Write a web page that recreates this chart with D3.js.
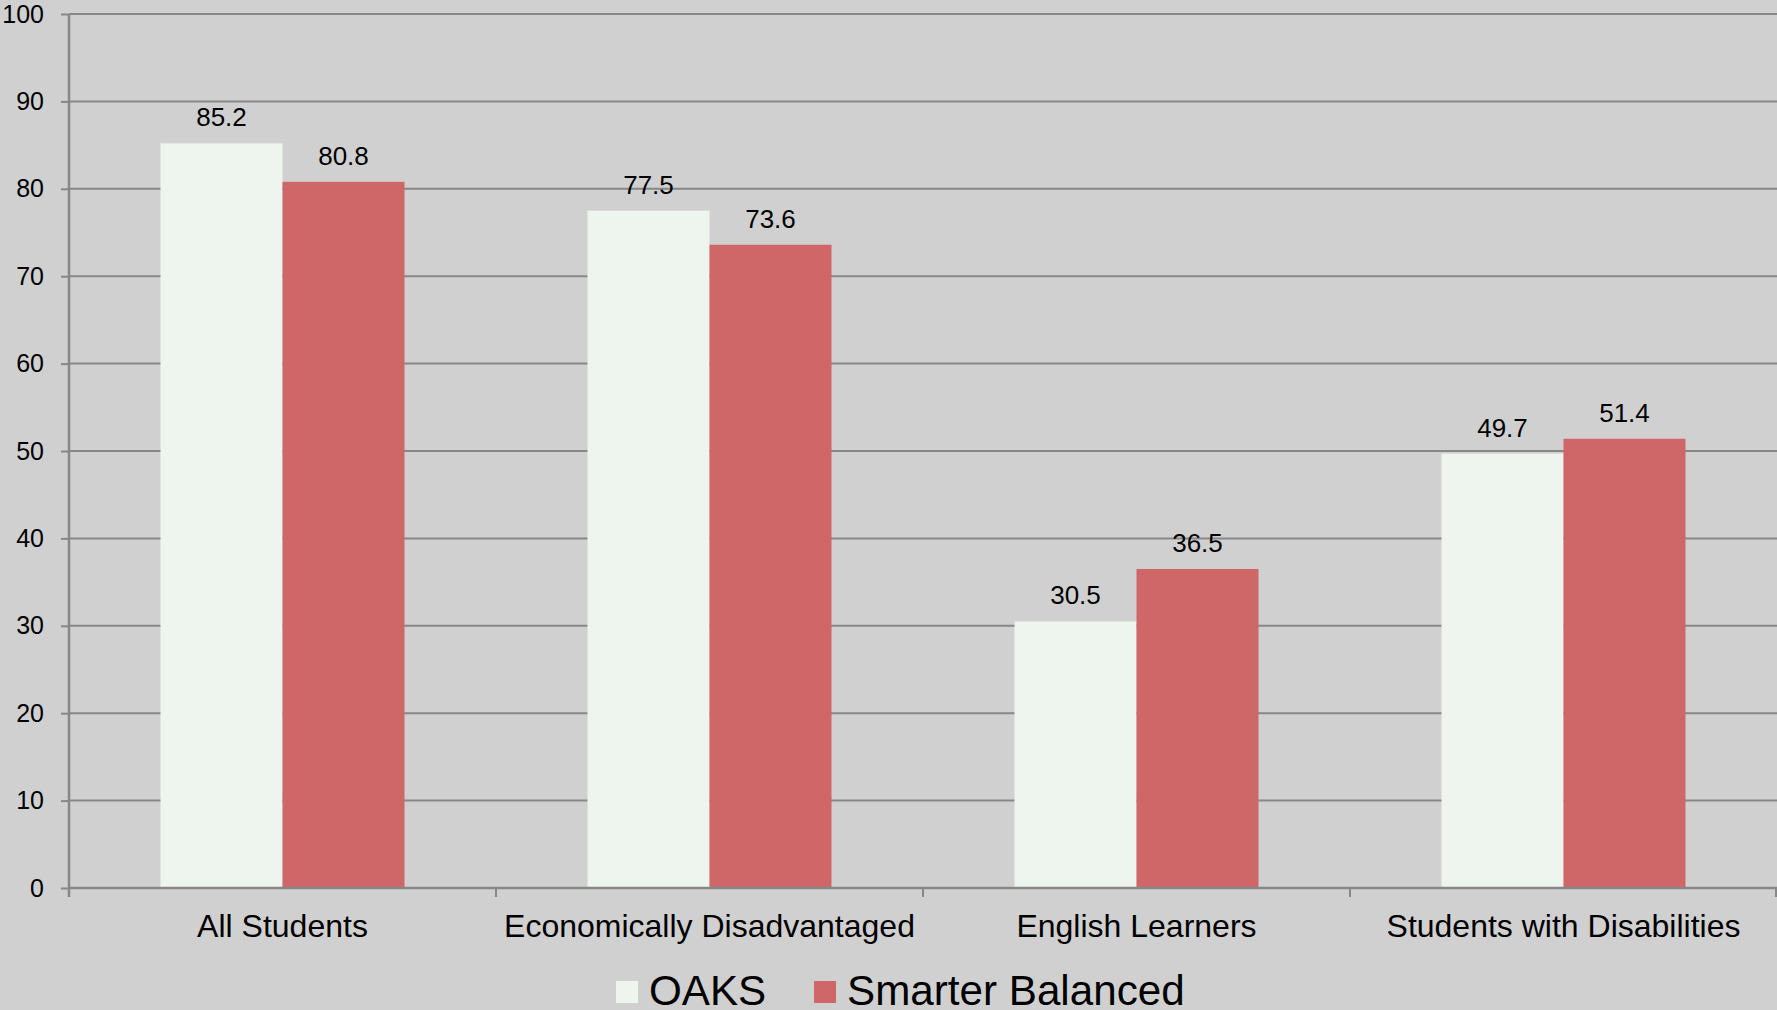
<!DOCTYPE html>
<html>
<head>
<meta charset="utf-8">
<script src="https://cdn.jsdelivr.net/npm/d3@7"></script>
<style>
  html, body { margin: 0; padding: 0; background: #d0d0d0; overflow: hidden; }
  svg { display: block; }
  text { font-family: "Liberation Sans", Arial, sans-serif; fill: #000; }
</style>
</head>
<body>
<script>
const categories = ["All Students", "Economically Disadvantaged", "English Learners", "Students with Disabilities"];
const seriesNames = ["OAKS", "Smarter Balanced"];
const oaksValues = [85.2, 77.5, 30.5, 49.7];
const smarterValues = [80.8, 73.6, 36.5, 51.4];
const yTicks = [0, 10, 20, 30, 40, 50, 60, 70, 80, 90, 100];
const colors = ["#eef4ee", "#cf6768"];

(function () {
const W = 1777, H = 1010;
const svg = d3.select("body").append("svg").attr("width", W).attr("height", H);
svg.append("rect").attr("width", W).attr("height", H).attr("fill", "#d0d0d0");

const mLeft = 69, mRight = 1777, mTop = 14, mBottom = 888;
const x0 = d3.scaleBand().domain(categories).range([mLeft, mRight]).paddingInner(0).paddingOuter(0);
const x1 = d3.scaleBand().domain(seriesNames).range([0, x0.bandwidth()]).paddingInner(0).paddingOuter(0.75);
const y = d3.scaleLinear().domain([0, 100]).range([mBottom, mTop]);

const gridColor = "#878787";

// gridlines
svg.append("g").selectAll("line").data(yTicks.filter(d => d > 0)).join("line")
  .attr("x1", mLeft).attr("x2", mRight)
  .attr("y1", d => y(d)).attr("y2", d => y(d))
  .attr("stroke", gridColor).attr("stroke-width", 2);

// y axis
const yAxis = svg.append("g").attr("transform", `translate(${mLeft},0)`)
  .call(d3.axisLeft(y).tickValues(yTicks).tickSize(8).tickPadding(17).tickFormat(d3.format("d")));
yAxis.select(".domain").remove();
yAxis.selectAll(".tick line").attr("stroke", gridColor).attr("stroke-width", 2);
yAxis.selectAll(".tick text").attr("font-size", 25).attr("font-family", "Liberation Sans, Arial, sans-serif").attr("fill", "#000");
yAxis.append("line").attr("x1", 0).attr("x2", 0).attr("y1", mTop).attr("y2", mBottom + 9)
  .attr("stroke", gridColor).attr("stroke-width", 2.5);

// bars
const data = categories.map((c, i) => ({ cat: c, vals: [oaksValues[i], smarterValues[i]] }));
const groups = svg.append("g").selectAll("g").data(data).join("g")
  .attr("transform", d => `translate(${x0(d.cat)},0)`);
groups.selectAll("rect").data(d => d.vals.map((v, j) => ({ s: seriesNames[j], v, j }))).join("rect")
  .attr("x", d => x1(d.s))
  .attr("y", d => y(d.v))
  .attr("width", x1.bandwidth())
  .attr("height", d => y(0) - y(d.v))
  .attr("fill", d => colors[d.j]);
groups.selectAll("text").data(d => d.vals.map((v, j) => ({ s: seriesNames[j], v, j }))).join("text")
  .attr("x", d => x1(d.s) + x1.bandwidth() / 2)
  .attr("y", d => y(d.v) - 17)
  .attr("text-anchor", "middle")
  .attr("font-size", 26)
  .text(d => d3.format(".1f")(d.v));

// x axis
const xAxis = svg.append("g").attr("transform", `translate(0,${mBottom})`);
xAxis.append("line").attr("x1", mLeft).attr("x2", mRight).attr("y1", 0).attr("y2", 0)
  .attr("stroke", gridColor).attr("stroke-width", 2.5);
const boundaries = categories.map(c => x0(c)).concat([x0(categories[categories.length - 1]) + x0.bandwidth()]);
xAxis.selectAll("line.tk").data(boundaries.slice(1)).join("line").attr("class", "tk")
  .attr("x1", d => Math.min(d, mRight - 1)).attr("x2", d => Math.min(d, mRight - 1))
  .attr("y1", 0).attr("y2", 9)
  .attr("stroke", gridColor).attr("stroke-width", 2);
xAxis.selectAll("text").data(categories).join("text")
  .attr("x", d => x0(d) + x0.bandwidth() / 2)
  .attr("y", 49)
  .attr("text-anchor", "middle")
  .attr("font-size", 32)
  .text(d => d);

// legend
const legend = svg.append("g");
const legendItems = [
  { name: seriesNames[0], color: colors[0], sx: 616, tx: 649 },
  { name: seriesNames[1], color: colors[1], sx: 814, tx: 847 }
];
legendItems.forEach(it => {
  legend.append("rect").attr("x", it.sx).attr("y", 981).attr("width", 22).attr("height", 22).attr("fill", it.color);
  legend.append("text")
    .attr("x", it.tx).attr("y", 1005)
    .attr("font-size", 42.2)
    .text(it.name);
});
})();
</script>
</body>
</html>
